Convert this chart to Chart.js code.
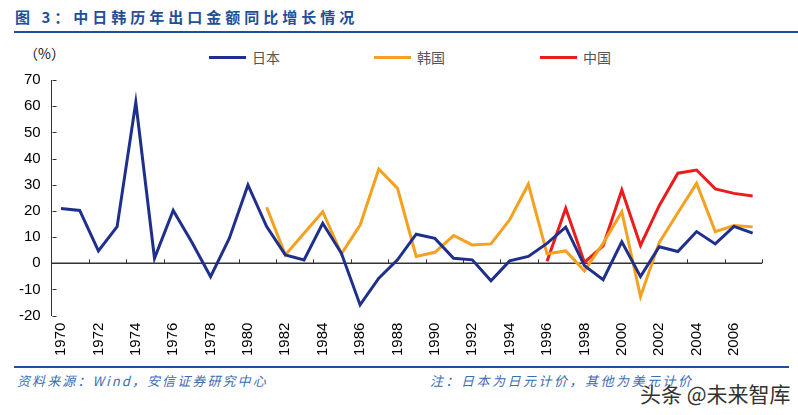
<!DOCTYPE html>
<html><head><meta charset="utf-8">
<script src="https://cdn.jsdelivr.net/npm/chart.js@4/dist/chart.umd.min.js"></script>
<style>
html,body{margin:0;padding:0;background:#fff;}
body{width:798px;height:415px;position:relative;overflow:hidden;font-family:"Liberation Sans","Noto Sans CJK SC",sans-serif;}
#title{position:absolute;left:15px;top:6px;font-family:"Noto Sans CJK SC";font-weight:bold;font-size:15px;letter-spacing:4px;color:#1F4E9A;white-space:nowrap;}
#tline{position:absolute;left:14px;top:31px;width:784px;height:2px;background:#1F4E9A;}
#bline{position:absolute;left:14px;top:366px;width:775px;height:2px;background:#1F4E9A;}
#unit{position:absolute;left:24px;top:43px;font-family:"Noto Sans CJK SC";font-size:14px;color:#111;}
#src{position:absolute;left:17px;top:371px;font-family:"Noto Sans CJK SC";font-style:italic;font-size:13px;letter-spacing:2.1px;color:#3C6CB4;white-space:nowrap;}
#note{position:absolute;left:430px;top:371px;font-family:"Noto Sans CJK SC";font-style:italic;font-size:13px;letter-spacing:2.5px;color:#3C6CB4;white-space:nowrap;}
#wm{position:absolute;left:640px;top:378px;font-family:"Noto Sans CJK SC";font-size:21px;color:#333;white-space:nowrap;text-shadow:0 0 2px #fff,0 0 2px #fff;}
#chartbox{position:absolute;left:0;top:60px;width:820px;height:305px;}
.lg{position:absolute;top:49px;display:flex;align-items:center;height:16px;font-family:"Noto Sans CJK SC";font-size:14px;color:#555;}
.lg span.l{display:inline-block;width:37px;height:3px;margin-right:6px;}
</style></head>
<body>
<div id="title">图 3：中日韩历年出口金额同比增长情况</div>
<div id="tline"></div>
<div id="unit">（%）</div>
<div id="legend"></div>
<div id="chartbox"><canvas id="c" width="820" height="305"></canvas></div>
<div id="bline"></div>
<div id="src">资料来源：Wind，安信证券研究中心</div>
<div id="note">注：日本为日元计价，其他为美元计价</div>
<div id="wm">头条 @未来智库</div>
<script>
const years = ["1970","1971","1972","1973","1974","1975","1976","1977","1978","1979",
"1980","1981","1982","1983","1984","1985","1986","1987","1988","1989",
"1990","1991","1992","1993","1994","1995","1996","1997","1998","1999",
"2000","2001","2002","2003","2004","2005","2006","2007"];
const japan = [20.9,20.2,4.7,14.0,61.5,1.9,20.2,8.0,-5.1,9.5,
29.9,14.0,3.2,1.3,15.3,3.8,-15.9,-5.7,1.3,11.1,
9.5,1.9,1.3,-6.7,0.9,2.6,7.6,13.8,-0.9,-6.3,
8.2,-5.1,6.3,4.5,12.1,7.4,14.1,11.5];
const korea = [null,null,null,null,null,null,null,null,null,null,
null,21.4,3.2,11.5,19.7,3.6,14.6,36.0,28.6,2.6,
4.2,10.6,7.0,7.4,16.6,30.2,3.6,4.7,-2.9,7.6,
19.7,-12.7,7.9,19.3,30.5,12.1,14.4,13.9];
const china = [null,null,null,null,null,null,null,null,null,null,
null,null,null,null,null,null,null,null,null,null,
null,null,null,null,null,null,0.8,21.0,0.3,6.6,
28.0,6.8,22.0,34.4,35.6,28.4,26.7,25.7];
const seriesNames = ["日本","韩国","中国"];
const yTicks = [-20,-10,0,10,20,30,40,50,60,70];

const colors = ["#1F2F8C","#F5A01E","#EC1C1C"];
const legendX = [209,374,540];

const axisPlugin = {
  id:'axisPlugin',
  beforeDatasetsDraw(chart){
    const ctx = chart.ctx, x = chart.scales.x, y = chart.scales.y, ca = chart.chartArea;
    ctx.save();
    ctx.strokeStyle = '#333';
    const y0 = y.getPixelForValue(0);
    ctx.lineWidth = 1.5;
    ctx.beginPath(); ctx.moveTo(ca.left, y0); ctx.lineTo(ca.right, y0); ctx.stroke();
    const w = x.getPixelForValue(1) - x.getPixelForValue(0);
    ctx.lineWidth = 1;
    for (let i = 2; i <= years.length; i += 2) {
      const px = Math.round(x.getPixelForValue(i) - w/2) + 0.5;
      ctx.beginPath(); ctx.moveTo(px, y0); ctx.lineTo(px, y0 - 4); ctx.stroke();
    }
    const lx = Math.round(ca.left) + 0.5;
    yTicks.forEach(v => {
      const py = Math.round(y.getPixelForValue(v)) + 0.5;
      ctx.beginPath(); ctx.moveTo(lx, py); ctx.lineTo(lx + 4, py); ctx.stroke();
    });
    ctx.restore();
  }
};

const chart = new Chart(document.getElementById('c'), {
  type:'line',
  data:{
    labels: years,
    datasets:[
      {label:seriesNames[0], data:japan, borderColor:colors[0], backgroundColor:colors[0]},
      {label:seriesNames[1], data:korea, borderColor:colors[1], backgroundColor:colors[1]},
      {label:seriesNames[2], data:china, borderColor:colors[2], backgroundColor:colors[2]}
    ].map(d => Object.assign(d, {borderWidth:3, pointRadius:0, tension:0, fill:false, spanGaps:false}))
  },
  options:{
    responsive:false,
    animation:false,
    events:[],
    layout:{padding:{left:8, right:58, top:19, bottom:2}},
    plugins:{legend:{display:false}, tooltip:{enabled:false}},
    scales:{
      x:{
        type:'category', offset:true,
        grid:{display:false, drawTicks:false, offset:true},
        border:{display:false},
        ticks:{
          autoSkip:false, minRotation:90, maxRotation:90, padding:7,
          color:'#000', font:{family:'"Liberation Sans"', size:15},
          callback:function(v,i){ return i % 2 === 0 ? this.getLabelForValue(v) : ''; }
        }
      },
      y:{
        min:-20, max:70,
        grid:{display:false, drawTicks:false},
        border:{display:true, color:'#333', width:1},
        ticks:{stepSize:10, padding:11, color:'#000', font:{family:'"Liberation Sans"', size:15}}
      }
    }
  },
  plugins:[axisPlugin]
});

const lg = document.getElementById('legend');
chart.data.datasets.forEach((d, i) => {
  const el = document.createElement('div');
  el.className = 'lg';
  el.style.left = legendX[i] + 'px';
  el.innerHTML = '<span class="l" style="background:' + d.borderColor + '"></span>' + d.label;
  lg.appendChild(el);
});
</script>
</body></html>
